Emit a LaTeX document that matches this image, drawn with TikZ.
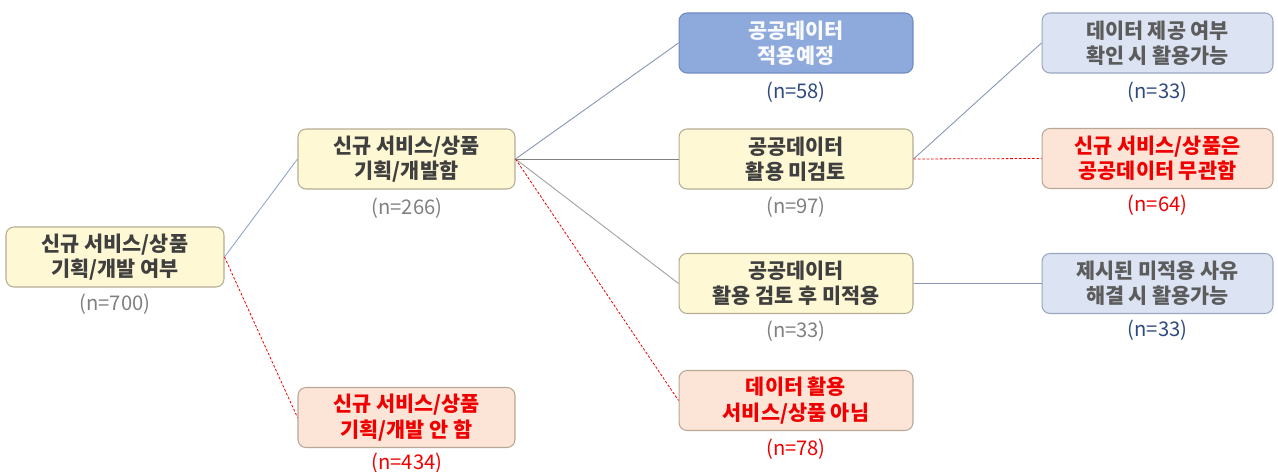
\documentclass[tikz,border=0pt]{standalone}
\usepackage{fontspec}
\setmainfont{Noto Sans CJK KR}
\usepackage{xcolor}

\definecolor{cream}{HTML}{FFF8D4}
\definecolor{creamrim}{HTML}{B3AC92}
\definecolor{deepblue}{HTML}{8EA9DC}
\definecolor{deeprim}{HTML}{6E8AC2}
\definecolor{paleblue}{HTML}{DCE4F3}
\definecolor{palerim}{HTML}{9AA6BE}
\definecolor{peach}{HTML}{FCE5D7}
\definecolor{peachrim}{HTML}{B9A796}
\definecolor{inkgray}{HTML}{3F3F3F}
\definecolor{numgray}{HTML}{808080}
\definecolor{numblue}{HTML}{2E4A7D}
\definecolor{alert}{HTML}{F00000}
\definecolor{linkblue}{HTML}{8FA3CC}
\definecolor{linkslate}{HTML}{8696B2}

\tikzset{
    stage/.style={rectangle, rounded corners=1.6mm, line width=0.6pt, align=center,
        inner sep=0pt, minimum height=1.2cm,
        font=\bfseries\fontsize{11.8}{14.5}\selectfont},
    going/.style={stage, fill=cream, draw=creamrim, text=inkgray},
    planned/.style={stage, fill=deepblue, draw=deeprim, text=white!94!deepblue},
    maybe/.style={stage, fill=paleblue, draw=palerim, text=inkgray!85},
    dropped/.style={stage, fill=peach, draw=peachrim, text=alert},
    count/.style={font=\fontsize{11.5}{13}\selectfont, inner sep=0pt},
    link/.style={line width=0.5pt},
    cut/.style={line width=0.45pt, alert, dash pattern=on 1.5pt off 1pt}
}

\begin{document}
\begin{tikzpicture}[x=0.02cm, y=-0.02cm]
    %\draw[gray, very thin] (0,0) grid[step=50] (1278,472);
    \useasboundingbox (0,0) rectangle (1278,472);

    % boxes
    \begin{scope}[minimum width=4.36cm]
    \node[going] (root) at (115,257) {신규 서비스/상품\\기획/개발 여부};
    \node[going, minimum width=4.34cm] (plan) at (406.5,159) {신규 서비스/상품\\기획/개발함};
    \node[dropped, minimum width=4.34cm] (noplan) at (406.5,417.5) {신규 서비스/상품\\기획/개발 안 함};
    \end{scope}
    \begin{scope}[minimum width=4.68cm]
    \node[planned] (sched) at (796,43) {공공데이터\\적용예정};
    \node[going] (unrev) at (796,159) {공공데이터\\활용 미검토};
    \node[going] (reject) at (796,283.5) {공공데이터\\활용 검토 후 미적용};
    \node[dropped] (nodata) at (796,400.5) {데이터 활용\\서비스/상품 아님};
    \end{scope}
    \begin{scope}[minimum width=4.62cm]
    \node[maybe] (ask) at (1157.5,43) {데이터 제공 여부\\확인 시 활용가능};
    \node[dropped] (unrel) at (1157.5,158.5) {신규 서비스/상품은\\공공데이터 무관함};
    \node[maybe] (fix) at (1157.5,283.5) {제시된 미적용 사유\\해결 시 활용가능};
    \end{scope}

    % counts
    \begin{scope}[count]
    \node[numgray] (n700) at (115,304) {(n=700)};
    \node[numgray] (n266) at (407,208) {(n=266)};
    \node[alert] (n434) at (407,463) {(n=434)};
    \node[numblue] (n58) at (796,92) {(n=58)};
    \node[numgray] (n97) at (796,207) {(n=97)};
    \node[numgray] (n33r) at (796,331) {(n=33)};
    \node[alert] (n78) at (796,449) {(n=78)};
    \node[numblue] (n33a) at (1157.5,92) {(n=33)};
    \node[alert] (n64) at (1157.5,205) {(n=64)};
    \node[numblue] (n33f) at (1157.5,330) {(n=33)};
    \end{scope}

    % links
    \draw[link, linkblue] (root.east) -- (plan.west);
    \draw[cut] (root.east) -- (noplan.west);
    \draw[link, linkslate] (plan.east) -- (sched.west);
    \draw[link, gray] (plan.east) -- (unrev.west);
    \draw[link, gray!75] (plan.east) -- (reject.west);
    \draw[cut] (plan.east) -- (nodata.west);
    \draw[link, linkslate] (unrev.east) -- (ask.west);
    \draw[cut] (unrev.east) -- (unrel.west);
    \draw[link, linkslate] (reject.east) -- (fix.west);
\end{tikzpicture}
\end{document}
